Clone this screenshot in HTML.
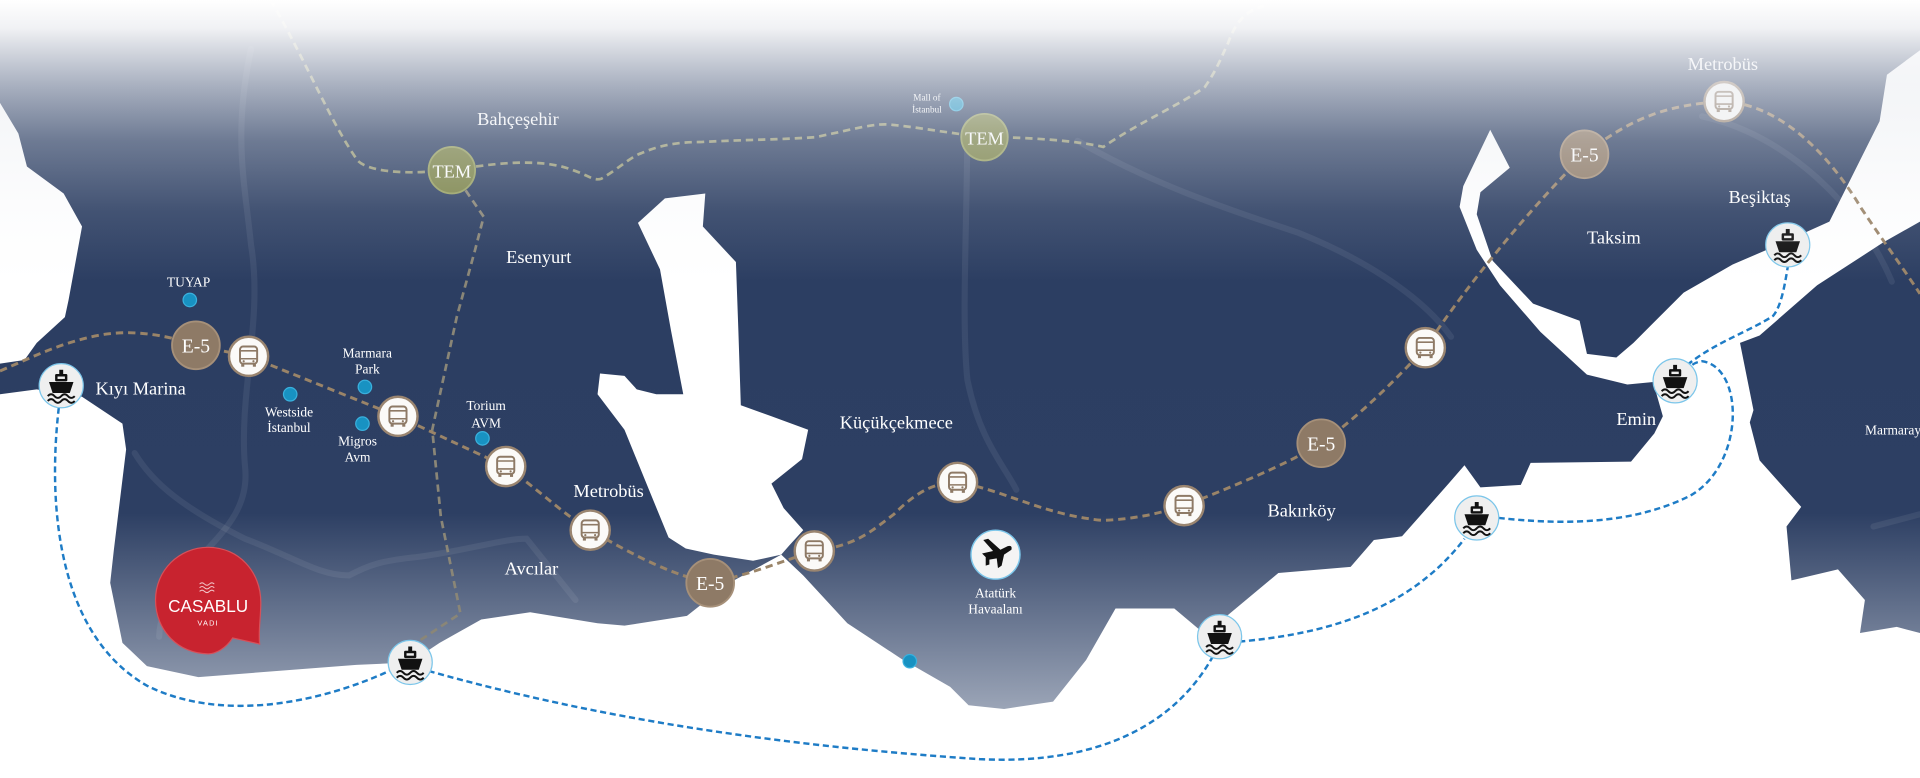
<!DOCTYPE html>
<html><head><meta charset="utf-8"><style>
html,body{margin:0;padding:0;background:#fff;}
svg{display:block;}
text{font-family:"Liberation Serif",serif;fill:#fff;}
</style></head><body>
<svg width="1920" height="778" viewBox="0 0 1568 635.4" preserveAspectRatio="none" xmlns="http://www.w3.org/2000/svg">
<defs>
<linearGradient id="land" gradientUnits="userSpaceOnUse" x1="0" y1="0" x2="0" y2="635">
<stop offset="0" stop-color="#2b3d61"/>
<stop offset="0.66" stop-color="#2d3f63"/>
<stop offset="0.93" stop-color="#a3acbd"/>
<stop offset="1" stop-color="#c0c6d2"/>
</linearGradient>
<linearGradient id="fade" gradientUnits="userSpaceOnUse" x1="0" y1="0" x2="0" y2="230">
<stop offset="0" stop-color="#fff" stop-opacity="1"/>
<stop offset="0.1" stop-color="#fbfbfc" stop-opacity="0.95"/>
<stop offset="0.3" stop-color="#eef0f4" stop-opacity="0.65"/>
<stop offset="0.5" stop-color="#e8ebf0" stop-opacity="0.35"/>
<stop offset="0.75" stop-color="#e8ebf0" stop-opacity="0.12"/>
<stop offset="1" stop-color="#e8ebf0" stop-opacity="0"/>
</linearGradient>
<g id="ferry">
<circle r="18" fill="#efefef" stroke="#7cc6ea" stroke-width="1"/>
<rect x="-1.6" y="-13" width="3.2" height="4" fill="#111"/>
<rect x="-5" y="-9.5" width="10" height="6" rx="1" fill="#111"/>
<rect x="-3" y="-7.5" width="6" height="2" fill="#efefef"/>
<path d="M-10,-3 L10,-3 L7,6 L-7,6 Z" fill="#111"/>
<path d="M-11,8.5 q2.75,-3 5.5,0 t5.5,0 t5.5,0 t5.5,0 M-11,12.5 q2.75,-3 5.5,0 t5.5,0 t5.5,0 t5.5,0" stroke="#111" stroke-width="1.6" fill="none"/>
</g>
<g id="bus">
<circle r="16" fill="#fbfaf8" stroke="#9a8570" stroke-width="2"/>
<rect x="-7" y="-8" width="14" height="14" rx="2.5" fill="none" stroke="#8e7a66" stroke-width="1.6"/>
<line x1="-7" y1="-4.5" x2="7" y2="-4.5" stroke="#8e7a66" stroke-width="1.3"/>
<line x1="-7" y1="2" x2="7" y2="2" stroke="#8e7a66" stroke-width="1.3"/>
<circle cx="-4" cy="4" r="0.9" fill="#8e7a66"/><circle cx="4" cy="4" r="0.9" fill="#8e7a66"/>
<rect x="-6" y="6" width="2.5" height="2.5" fill="#8e7a66"/><rect x="3.5" y="6" width="2.5" height="2.5" fill="#8e7a66"/>
</g>
</defs>

<rect x="0" y="0" width="1568" height="636" fill="url(#land)"/>

<g stroke="#ffffff" stroke-opacity="0.07" stroke-width="5" fill="none" stroke-linecap="round">
<path d="M205,40 C190,110 200,150 205,200 C215,260 195,320 200,380 C205,420 175,440 150,470 C135,490 130,510 130,520"/>
<path d="M110,370 C125,395 150,415 200,440 C240,455 260,470 285,470 C300,462 310,458 340,455 C380,450 410,440 430,440 L470,490"/>
<path d="M790,100 C790,180 785,260 790,310 C800,360 820,380 830,400"/>
<path d="M880,115 C940,150 1000,170 1060,190 C1110,210 1160,240 1185,275"/>
<path d="M1390,95 C1460,110 1520,170 1545,230"/>
<path d="M1530,430 L1568,420"/>
</g>

<path fill="#fff" d="M0,84 L15,109 L22,136 L52,158 L67,185 L56,245 L53,259 L30,280 L20,294 L0,297 Z"/>
<path fill="#fff" d="M0,322 L30,318 L67,324 L100,346 L103,367 L93,449 L90,476 L100,525 L120,544 L162,553 L291,543 L335,541 L359,525 L393,506 L433,500 L488,509 L510,511 L561,503 L594,477 L638,453 L656,470 L692,509 L736,538 L776,561 L791,576 L820,579 L860,573 L887,539 L911,497 L959,497 L984,518 L1044,468 L1103,463 L1122,441 L1145,438 L1183,395 L1196,380 L1209,398 L1242,396 L1250,378 L1332,377 L1351,354 L1358,340 L1350,312 L1329,314 L1296,306 L1258,271 L1225,233 L1206,204 L1192,169 L1195,152 L1217,106 L1233,137 L1209,157 L1206,175 L1219,213 L1252,248 L1290,262 L1296,289 L1320,292 L1334,280 L1375,239 L1415,216 L1443,204 L1494,181 L1519,131 L1535,99 L1541,61 L1568,41 L1568,181 L1538,198 L1484,233 L1437,274 L1421,280 L1432,335 L1429,345 L1437,376 L1471,414 L1459,430 L1463,474 L1501,465 L1523,490 L1519,517 L1549,512 L1568,517 L1568,636 L0,636 Z"/>
<path fill="#fff" d="M521,182 L543,162 L576,158 L574,185 L601,214 L603,270 L605,331 L630,340 L660,351 L655,375 L630,395 L640,415 L656,433 L645,445 L638,453 L615,458 L583,453 L560,448 L546,439 L530,400 L510,351 L488,322 L490,305 L510,307 L520,318 L536,322 L558,322 L548,270 L539,220 Z"/>

<g stroke="#1e7cc6" stroke-width="2" stroke-dasharray="5,3" fill="none">
<path d="M48,333 C38,420 50,520 120,560 C180,590 260,575 320,547"/>
<path d="M350,548 C500,590 650,610 800,620 C900,625 960,590 990,537"/>
<path d="M1012,524 C1080,518 1150,500 1196,440"/>
<path d="M1224,423 C1270,428 1330,430 1380,405 C1425,380 1425,300 1390,295 Q1383,296 1380,300"/>
<path d="M1378,298 C1400,280 1430,270 1448,258 C1455,250 1458,230 1460,218"/>
</g>

<g stroke="#a5a57a" stroke-width="2.2" stroke-dasharray="6,4" fill="none" opacity="0.9">
<path d="M221,0 C250,50 270,100 292,131 C300,140 330,142 352,140 L369,139"/>
<path d="M369,139 C400,134 440,128 468,139 C480,143 485,148 491,146 C505,138 515,128 524,125 C540,118 555,116 572,116 C610,114 640,114 666,112 C700,105 715,100 729,102 C750,104 770,108 804,112 C840,112 880,115 901,120 C930,100 965,85 984,71 C995,55 998,45 1003,35 C1010,15 1020,8 1032,5"/>
</g>
<path d="M369,139 L382,158 L395,177 L388,204 L373,259 L353,351 L360,422 L376,501 L340,525" stroke="#8a8677" stroke-width="2.2" stroke-dasharray="6,4" fill="none"/>

<path d="M0,303 C30,290 50,280 80,274 C110,268 140,275 160,282 L203,291 L325,340 L413,381 C440,400 460,420 482,433 C520,455 550,470 580,476 C610,470 640,458 665,450 C700,445 710,435 730,420 C750,400 765,394 782,394 C820,400 850,420 900,425 C930,424 950,418 967,413 C1000,400 1050,380 1079,362 C1110,340 1140,310 1164,284 C1200,230 1250,170 1294,126 C1330,98 1360,85 1408,83 C1450,85 1490,120 1520,170 C1540,200 1555,220 1568,240" stroke="#9a8468" stroke-width="2.4" stroke-dasharray="6,4" fill="none"/>

<g fill="#1892c2" stroke="#3ab0dd" stroke-width="1">
<circle cx="155" cy="245" r="5.5"/>
<circle cx="237" cy="322" r="5.5"/>
<circle cx="298" cy="316" r="5.5"/>
<circle cx="296" cy="346" r="5.5"/>
<circle cx="394" cy="358" r="5.5"/>
<circle cx="781" cy="85" r="5.5"/>
<circle cx="743" cy="540" r="5.5"/>
</g>

<g>
<circle cx="160" cy="282" r="19.5" fill="#8e7a66" stroke="#a69079" stroke-width="1.5"/>
<circle cx="580" cy="476" r="19.5" fill="#8e7a66" stroke="#a69079" stroke-width="1.5"/>
<circle cx="1079" cy="362" r="19.5" fill="#8e7a66" stroke="#a69079" stroke-width="1.5"/>
<circle cx="1294" cy="126" r="19.5" fill="#8e7a66" stroke="#a69079" stroke-width="1.5"/>
<text x="160" y="288" font-size="16" text-anchor="middle">E-5</text>
<text x="580" y="482" font-size="16" text-anchor="middle">E-5</text>
<text x="1079" y="368" font-size="16" text-anchor="middle">E-5</text>
<text x="1294" y="132" font-size="16" text-anchor="middle">E-5</text>
</g>
<circle cx="369" cy="139" r="19" fill="#7b8347" stroke="#97a060" stroke-width="1.5"/>
<circle cx="804" cy="112" r="19" fill="#7b8347" stroke="#97a060" stroke-width="1.5"/>
<text x="369" y="145" font-size="15" text-anchor="middle">TEM</text>
<text x="804" y="118" font-size="15" text-anchor="middle">TEM</text>

<use href="#bus" x="203" y="291"/>
<use href="#bus" x="325" y="340"/>
<use href="#bus" x="413" y="381"/>
<use href="#bus" x="482" y="433"/>
<use href="#bus" x="665" y="450"/>
<use href="#bus" x="782" y="394"/>
<use href="#bus" x="967" y="413"/>
<use href="#bus" x="1164" y="284"/>
<use href="#bus" x="1408" y="83"/>

<use href="#ferry" x="50" y="315"/>
<use href="#ferry" x="335" y="541"/>
<use href="#ferry" x="996" y="520"/>
<use href="#ferry" x="1206" y="423"/>
<use href="#ferry" x="1368" y="311"/>
<use href="#ferry" x="1460" y="200"/>

<circle cx="813" cy="453" r="20" fill="#f4f4f4" stroke="#7cc6ea" stroke-width="1.2"/>
<path d="M803,441 L807,440 L817,449 L823,446 Q827,445 826,449 L820,453 L818,462 L815,464 L814,456 L808,457 L808,461 L805,462 L805,455 L802,452 L811,450 Z" fill="#111"/>

<path d="M170,447 C195,447 213,467 213,492 C213,505 211,513 212,526 L190,521 C184,530 176,534 170,534 C146,534 127,515 127,490 C127,466 146,447 170,447 Z" fill="#c8232f" stroke="#d6515a" stroke-width="1"/>
<text x="170" y="500" font-size="14" text-anchor="middle" style="font-family:'Liberation Sans',sans-serif">CASABLU</text>
<text x="170" y="511" font-size="6" text-anchor="middle" style="font-family:'Liberation Sans',sans-serif;letter-spacing:1px">VADI</text>
<g stroke="#f3c6c9" stroke-width="0.8" fill="none">
<path d="M163,477 q2,-2 4,0 t4,0 t4,0 M163,480 q2,-2 4,0 t4,0 t4,0 M163,483 q2,-2 4,0 t4,0 t4,0"/>
</g>

<g font-size="15">
<text x="423" y="102" text-anchor="middle">Bahçeşehir</text>
<text x="440" y="215" text-anchor="middle">Esenyurt</text>
<text x="78" y="322">Kıyı Marina</text>
<text x="497" y="406" text-anchor="middle">Metrobüs</text>
<text x="434" y="469" text-anchor="middle">Avcılar</text>
<text x="732" y="350" text-anchor="middle">Küçükçekmece</text>
<text x="1063" y="422" text-anchor="middle">Bakırköy</text>
<text x="1318" y="199" text-anchor="middle">Taksim</text>
<text x="1437" y="166" text-anchor="middle">Beşiktaş</text>
<text x="1320" y="347">Emin</text>
<text x="1407" y="57" text-anchor="middle">Metrobüs</text>
</g>
<g font-size="11" text-anchor="middle">
<text x="154" y="234">TUYAP</text>
<text x="236" y="340">Westside</text>
<text x="236" y="353">İstanbul</text>
<text x="300" y="292">Marmara</text>
<text x="300" y="305">Park</text>
<text x="292" y="364">Migros</text>
<text x="292" y="377">Avm</text>
<text x="397" y="335">Torium</text>
<text x="397" y="349">AVM</text>
<text x="813" y="488">Atatürk</text>
<text x="813" y="501">Havaalanı</text>
<text x="1546" y="355">Marmaray</text>
</g>
<g font-size="7.5" text-anchor="middle">
<text x="757" y="82">Mall of</text>
<text x="757" y="92">İstanbul</text>
</g>

<rect x="0" y="0" width="1568" height="230" fill="url(#fade)"/>
</svg>
</body></html>
